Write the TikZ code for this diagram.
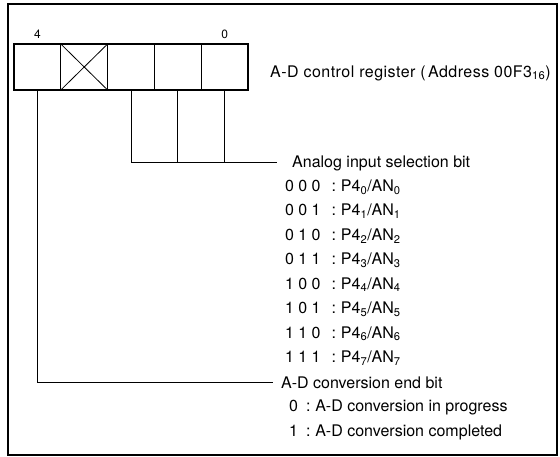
\documentclass[tikz,border=0pt]{standalone}
\usepackage{fontspec}
\setmainfont{TeX Gyre Heros}
\usetikzlibrary{positioning}
\newcommand{\selrow}[4]{#1\hspace{.27em}#2\hspace{.27em}#3\hspace{.7em}:\hspace{.3em}P4\textsubscript{#4}/AN\textsubscript{#4}}
\tikzset{regcell/.style={draw, line width=0.8pt, minimum width=46.8pt, minimum height=46pt, inner sep=0pt, outer sep=0pt},
  regwire/.style={line width=1pt},
  regtext/.style={anchor=west, inner sep=1pt, font=\fontsize{16}{19}\selectfont},
  bitnum/.style={inner sep=0pt, font=\fontsize{12}{14}\selectfont}}

\begin{document}
\begin{tikzpicture}[x=1pt, y=-1pt]
\useasboundingbox (0,0) rectangle (560,457);
\draw[line width=2.2pt] (8,4) rectangle (557,455);
% register cells, bit 4 .. bit 0
\node[regcell] (b4) at (37.4,67) {};
\node[regcell, right=0pt of b4] (b3) {};
\node[regcell, right=0pt of b3] (b2) {};
\node[regcell, right=0pt of b2] (b1) {};
\node[regcell, right=0pt of b1] (b0) {};
\draw[line width=2.6pt] (b4.north west) rectangle (b0.south east);
\draw[line width=0.8pt] (b3.north west) -- (b3.south east) (b3.south west) -- (b3.north east);
\node[bitnum, above=5pt of b4] (n4) {4};
\node[bitnum, above=5pt of b0] (n0) {0};
\node[regtext] (reg) at (269,73) {\addfontfeature{LetterSpace=3}A-D control register\hspace{.3em}(\hspace{.15em}Address 00F3\textsubscript{16})};
% analog input selection
\node[regtext] (sel) at (291,163) {Analog input selection bit};
\foreach \a/\b/\c [count=\k from 0] in {0/0/0,0/0/1,0/1/0,0/1/1,1/0/0,1/0/1,1/1/0,1/1/1}
  \node[regtext] (row\k) at (284,{187+24.45*\k}) {\selrow{\a}{\b}{\c}{\k}};
\draw[regwire, shorten >=14pt] (b2.south) |- (sel.west);
\draw[regwire] (b1.south) -- (b1.south |- sel.west);
\draw[regwire] (b0.south) -- (b0.south |- sel.west);
% conversion end bit
\node[regtext] (endbit) at (280,382.5) {A-D conversion end bit};
\node[regtext] (prog) at (288,407.5) {0\hspace{.5em}:\hspace{.3em}A-D conversion in progress};
\node[regtext] (done) at (288,432) {1\hspace{.5em}:\hspace{.3em}A-D conversion completed};
\draw[regwire, shorten >=7pt] (b4.south) |- (endbit.west);
\end{tikzpicture}
\end{document}
